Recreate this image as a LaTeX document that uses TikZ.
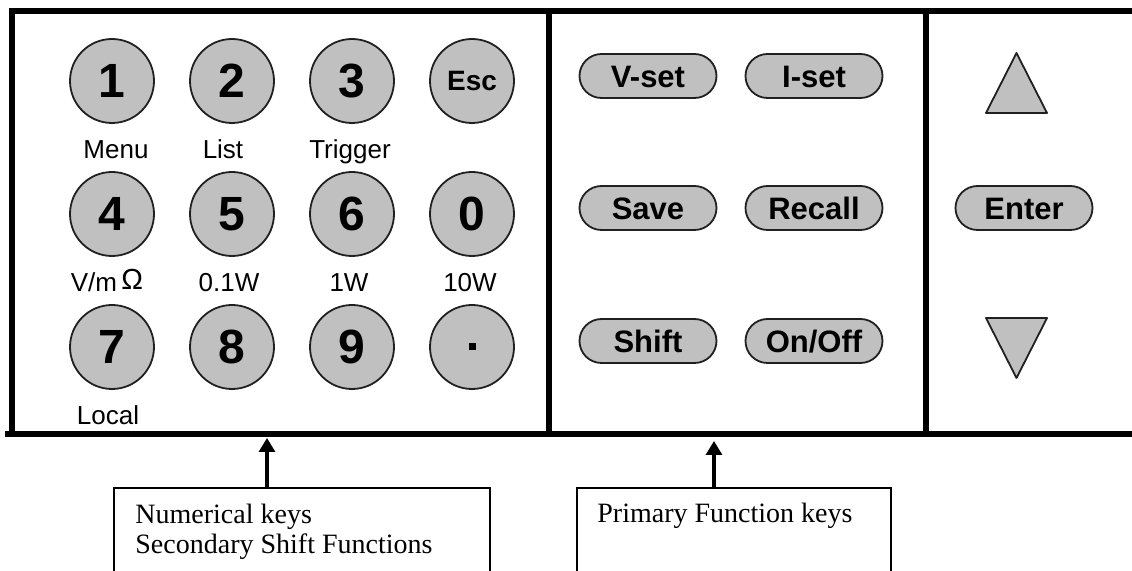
\documentclass[tikz,border=0pt]{standalone}
\usepackage{fontspec}
\setmainfont{Liberation Serif}
\setsansfont{Liberation Sans}
\usepackage{tikz}
\usetikzlibrary{arrows.meta}
\definecolor{keygray}{RGB}{192,192,192}
\definecolor{keyline}{RGB}{32,32,32}

\begin{document}
\begin{tikzpicture}[x=0.5pt, y=-0.5pt,
    frame/.style={line width=3pt},
    numkey/.style={circle, draw=keyline, line width=0.9pt, fill=keygray, minimum size=42pt, inner sep=0pt, font=\sffamily\bfseries\fontsize{24}{24}\selectfont},
    esckey/.style={numkey, font=\sffamily\bfseries\fontsize{14}{14}\selectfont},
    fnkey/.style={rectangle, rounded corners=11pt, draw=keyline, line width=0.9pt, fill=keygray, minimum width=68.5pt, minimum height=22pt, inner sep=0pt, text height=11.1pt, text depth=0pt, font=\sffamily\bfseries\fontsize{15.5}{15.5}\selectfont},
    arrowkey/.style={draw=keyline, line width=0.9pt, fill=keygray, line join=round},
    keylabel/.style={anchor=base, inner sep=0pt, font=\sffamily\fontsize{13}{13}\selectfont},
    infobox/.style={draw, line width=0.9pt, anchor=north west, minimum height=50pt},
    boxtext/.style={anchor=base west, inner sep=0pt, font=\fontsize{14}{14}\selectfont},
    keyarrow/.style={line width=1.6pt, -{Triangle[length=7pt,width=8pt]}}]

    \useasboundingbox (0,0) rectangle (1132,571);
    \clip (0,0) rectangle (1132,571);

    % Frame
    \draw[frame] (1140,11) -- (12,11) -- (12,434);
    \draw[frame] (5,434) -- (1140,434);
    \draw[frame] (549,11) -- (549,434);
    \draw[frame] (926,11) -- (926,434);

    % Numerical keys
    \node[numkey] (k1) at (112,81) {1};
    \node[numkey] (k2) at (232,81) {2};
    \node[numkey] (k3) at (352,81) {3};
    \node[esckey] (kesc) at (472,81) {Esc};
    \node[numkey] (k4) at (112,214) {4};
    \node[numkey] (k5) at (232,214) {5};
    \node[numkey] (k6) at (352,214) {6};
    \node[numkey] (k0) at (472,214) {0};
    \node[numkey] (k7) at (112,347) {7};
    \node[numkey] (k8) at (232,347) {8};
    \node[numkey] (k9) at (352,347) {9};
    \node[numkey] (kdot) at (472,347) {\rule{3.5pt}{3.5pt}};

    % Shift labels
    \node[keylabel] (menu) at (116,159) {Menu};
    \node[keylabel] (list) at (223,159) {List};
    \node[keylabel] (trigger) at (350,159) {Trigger};
    \node[keylabel] (vmohm) at (107,292) {V/m\,\raisebox{1pt}{\fontsize{14.5}{14.5}\selectfont Ω}};
    \node[keylabel] (w01) at (229,292) {0.1W};
    \node[keylabel] (w1) at (349,292) {1W};
    \node[keylabel] (w10) at (470,292) {10W};
    \node[keylabel] (local) at (108,425) {Local};

    % Function keys
    \node[fnkey] (vset) at (648,76) {V-set};
    \node[fnkey] (iset) at (814,76) {I-set};
    \node[fnkey] (save) at (648,208) {Save};
    \node[fnkey] (recall) at (814,208) {Recall};
    \node[fnkey] (shift) at (648,341) {Shift};
    \node[fnkey] (onoff) at (814,341) {On/Off};

    % Cursor keys
    \draw[arrowkey] (986,113) -- (1047,113) -- (1016.5,53) -- cycle;
    \node[fnkey] (enter) at (1024,208) {Enter};
    \draw[arrowkey] (986,318) -- (1047,318) -- (1016.5,378) -- cycle;

    % Callouts
    \node[infobox, minimum width=188pt] (numbox) at (113,487) {};
    \node[boxtext] (numtext) at (135,524) {Numerical keys};
    \node[boxtext] (shifttext) at (135,554) {Secondary Shift Functions};
    \node[infobox, minimum width=157pt] (fnbox) at (576,487) {};
    \node[boxtext] (fntext) at (597,523) {Primary Function keys};

    % Arrows
    \coordinate (numtip) at (267,438);
    \coordinate (fntip) at (714,441);
    \draw[keyarrow] (numbox.north -| numtip) -- (numtip);
    \draw[keyarrow] (fnbox.north -| fntip) -- (fntip);

\end{tikzpicture}
\end{document}
